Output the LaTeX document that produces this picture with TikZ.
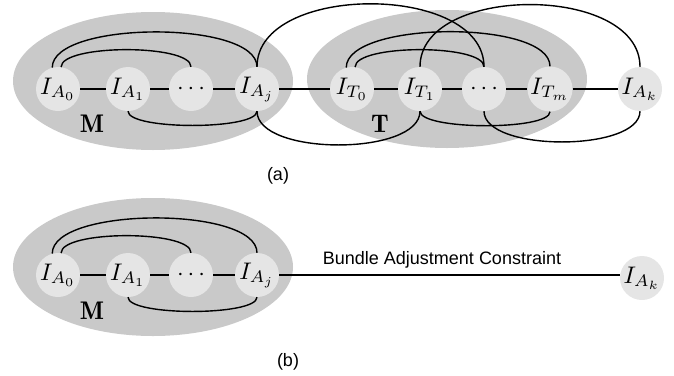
\documentclass[tikz,border=0pt]{standalone}
\usepackage{fontspec}
\setsansfont{Liberation Sans}
\usetikzlibrary{shapes.geometric}
\definecolor{grpgray}{RGB}{201,201,201}
\definecolor{nodegray}{RGB}{229,229,229}
\newcommand{\imgtxt}[1]{\scalebox{2.4}{$#1$}}
\newcommand{\grptxt}[1]{\scalebox{2.55}{$\mathbf{#1}$}}
\begin{document}
\begin{tikzpicture}[x=1pt,y=-1pt,
  grp/.style={ellipse, fill=grpgray, draw=none, minimum width=280pt, minimum height=138pt, inner sep=0pt},
  img/.style={circle, fill=nodegray, draw=none, minimum size=44pt, inner sep=0pt},
  grplbl/.style={inner sep=0pt},
  caplbl/.style={font=\sffamily\fontsize{18}{22}\selectfont, inner sep=0pt},
  edge/.style={line width=1.4pt, black}
]
\useasboundingbox (0,0) rectangle (674,375);

% ---------- (a) ----------
\node[grp] (Mgrp) at (153,81) {};
\node[grp] (Tgrp) at (447,79) {};

\node[img] (A0) at (58,89) {\imgtxt{I_{A_0}}};
\node[img] (A1) at (128,89) {\imgtxt{I_{A_1}}};
\node[img] (dA) at (191,89) {\imgtxt{\cdots}};
\node[img] (Aj) at (257,89) {\imgtxt{I_{A_j}}};
\node[img] (T0) at (352,89) {\imgtxt{I_{T_0}}};
\node[img] (T1) at (420,89) {\imgtxt{I_{T_1}}};
\node[img] (dT) at (484,89) {\imgtxt{\cdots}};
\node[img] (Tm) at (550,89) {\imgtxt{I_{T_m}}};
\node[img] (Ak) at (640,89) {\imgtxt{I_{A_k}}};

\node[grplbl] (Mlbl) at (92,124) {\grptxt{M}};
\node[grplbl] (Tlbl) at (380,124) {\grptxt{T}};
\node[caplbl] (capa) at (278,176) {(a)};

\draw[edge] (A0) -- (A1);
\draw[edge] (A1) -- (dA);
\draw[edge] (dA) -- (Aj);
\draw[edge] (Aj) -- (T0);
\draw[edge] (T0) -- (T1);
\draw[edge] (T1) -- (dT);
\draw[edge] (dT) -- (Tm);
\draw[edge] (Tm) -- (Ak);

\draw[edge] (A0.105) .. controls +(0,-47) and +(0,-47) .. (Aj.90);
\draw[edge] (A0.82) .. controls +(0,-23) and +(0,-23) .. (dA.90);
\draw[edge] (A1.270) .. controls +(0,19) and +(0,19) .. (Aj.270);
\draw[edge] (Aj.90) .. controls +(0,-84) and +(0,-84) .. (dT.90);
\draw[edge] (Aj.270) .. controls +(0,45) and +(0,45) .. (T1.270);
\draw[edge] (T0.105) .. controls +(0,-47) and +(0,-47) .. (Tm.90);
\draw[edge] (T0.82) .. controls +(0,-23) and +(0,-23) .. (dT.90);
\draw[edge] (T1.90) .. controls +(0,-83) and +(0,-83) .. (Ak.90);
\draw[edge] (T1.270) .. controls +(0,19) and +(0,19) .. (Tm.270);
\draw[edge] (dT.270) .. controls +(0,41) and +(0,41) .. (Ak.270);

% ---------- (b) ----------
\node[grp] (Mgrpb) at (153,267) {};

\node[img] (bA0) at (58,275) {\imgtxt{I_{A_0}}};
\node[img] (bA1) at (128,275) {\imgtxt{I_{A_1}}};
\node[img] (bdA) at (191,275) {\imgtxt{\cdots}};
\node[img] (bAj) at (257,275) {\imgtxt{I_{A_j}}};
\node[img] (bAk) at (642,278) {\imgtxt{I_{A_k}}};

\node[grplbl] (Mlblb) at (92,311) {\grptxt{M}};
\node[caplbl] (bac) at (442,260) {Bundle Adjustment Constraint};
\node[caplbl] (capb) at (288,362) {(b)};

\draw[edge] (bA0) -- (bA1);
\draw[edge] (bA1) -- (bdA);
\draw[edge] (bdA) -- (bAj);
\draw[edge] (bAj.east) -- (bAj.east -| bAk.west);

\draw[edge] (bA0.105) .. controls +(0,-47) and +(0,-47) .. (bAj.90);
\draw[edge] (bA0.82) .. controls +(0,-23) and +(0,-23) .. (bdA.90);
\draw[edge] (bA1.270) .. controls +(0,19) and +(0,19) .. (bAj.270);
\end{tikzpicture}
\end{document}
